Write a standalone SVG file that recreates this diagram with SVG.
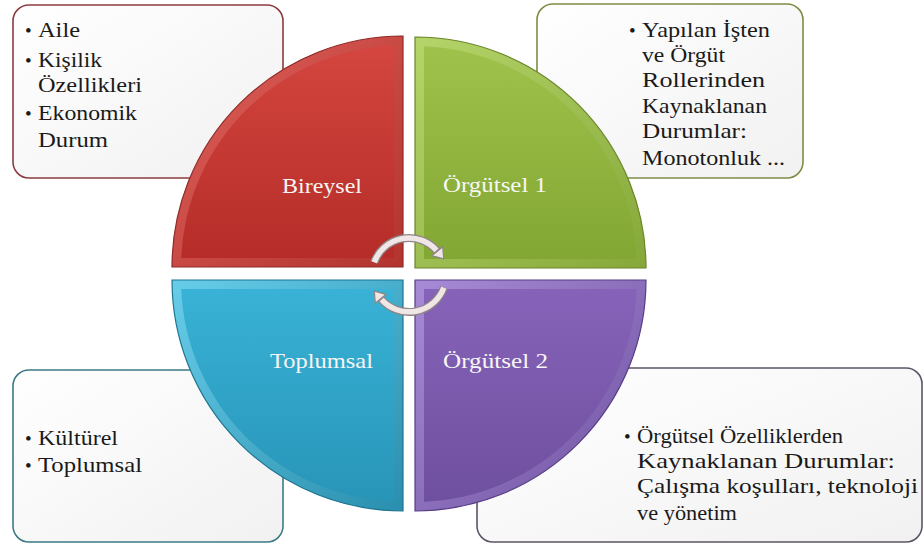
<svg xmlns="http://www.w3.org/2000/svg" width="924" height="545" viewBox="0 0 924 545">
<defs>
<linearGradient id="boxg" x1="0" y1="0" x2="1" y2="1"><stop offset="0" stop-color="#ffffff"/><stop offset="1" stop-color="#f1f1f1"/></linearGradient>
<linearGradient id="redO" x1="0" y1="0" x2="1" y2="1"><stop offset="0" stop-color="#e0625c"/><stop offset="1" stop-color="#b3332f"/></linearGradient>
<linearGradient id="redI" x1="0" y1="0" x2="0" y2="1"><stop offset="0" stop-color="#d4463f"/><stop offset="1" stop-color="#b52c28"/></linearGradient>
<linearGradient id="grnO" x1="0" y1="0" x2="1" y2="1"><stop offset="0" stop-color="#b5d46a"/><stop offset="1" stop-color="#86a83a"/></linearGradient>
<linearGradient id="grnI" x1="0" y1="0" x2="0" y2="1"><stop offset="0" stop-color="#9fc24c"/><stop offset="1" stop-color="#82a732"/></linearGradient>
<linearGradient id="bluO" x1="0" y1="0" x2="1" y2="1"><stop offset="0" stop-color="#68cde9"/><stop offset="1" stop-color="#2a8fae"/></linearGradient>
<linearGradient id="bluI" x1="0" y1="0" x2="0" y2="1"><stop offset="0" stop-color="#38b2d6"/><stop offset="1" stop-color="#2895b8"/></linearGradient>
<linearGradient id="purO" x1="0" y1="0" x2="1" y2="1"><stop offset="0" stop-color="#a78bd6"/><stop offset="1" stop-color="#6e52a0"/></linearGradient>
<linearGradient id="purI" x1="0" y1="0" x2="0" y2="1"><stop offset="0" stop-color="#8663b8"/><stop offset="1" stop-color="#6f4f9f"/></linearGradient>
</defs>
<style>
.box{fill:url(#boxg);stroke-width:1.6}
.t{font-family:"Liberation Serif","Times New Roman",serif;font-size:21px;fill:#1a1a1a}
.b{font-family:"Liberation Serif","Times New Roman",serif;font-size:19px;fill:#1a1a1a}
.lab{font-family:"Liberation Serif","Times New Roman",serif;font-size:22px;fill:#f6f6f6}
.edge{stroke-width:1.2}
.arcO{fill:none;stroke:#8f8586;stroke-width:8}
.arcI{fill:none;stroke:#f1e6e6;stroke-width:5.5}
.head{fill:#f1e6e6;stroke:#8f8586;stroke-width:1.2}
</style>
<rect width="924" height="545" fill="#ffffff"/>
<g id="box-bireysel">
<rect class="box" x="13" y="5" width="270" height="173" rx="16" stroke="#8c3c40"/>
<text class="b" x="25" y="37">•</text>
<text class="t" x="38" y="37" textLength="42" lengthAdjust="spacingAndGlyphs">Aile</text>
<text class="b" x="25" y="67">•</text>
<text class="t" x="38" y="67" textLength="64" lengthAdjust="spacingAndGlyphs">Kişilik</text>
<text class="t" x="38" y="92" textLength="104" lengthAdjust="spacingAndGlyphs">Özellikleri</text>
<text class="b" x="25" y="120">•</text>
<text class="t" x="38" y="120" textLength="99" lengthAdjust="spacingAndGlyphs">Ekonomik</text>
<text class="t" x="38" y="147" textLength="70" lengthAdjust="spacingAndGlyphs">Durum</text>
</g>
<g id="box-orgutsel1">
<rect class="box" x="537" y="4" width="266" height="174" rx="16" stroke="#7d8c45"/>
<text class="b" x="629" y="37">•</text>
<text class="t" x="642" y="37" textLength="128" lengthAdjust="spacingAndGlyphs">Yapılan İşten</text>
<text class="t" x="642" y="62" textLength="83" lengthAdjust="spacingAndGlyphs">ve Örgüt</text>
<text class="t" x="642" y="87" textLength="123" lengthAdjust="spacingAndGlyphs">Rollerinden</text>
<text class="t" x="642" y="113" textLength="125" lengthAdjust="spacingAndGlyphs">Kaynaklanan</text>
<text class="t" x="642" y="138" textLength="105" lengthAdjust="spacingAndGlyphs">Durumlar:</text>
<text class="t" x="642" y="165" textLength="143" lengthAdjust="spacingAndGlyphs">Monotonluk ...</text>
</g>
<g id="box-toplumsal">
<rect class="box" x="13" y="370" width="270" height="172" rx="16" stroke="#3c7a85"/>
<text class="b" x="25" y="445">•</text>
<text class="t" x="38" y="445" textLength="80" lengthAdjust="spacingAndGlyphs">Kültürel</text>
<text class="b" x="25" y="472">•</text>
<text class="t" x="38" y="472" textLength="104" lengthAdjust="spacingAndGlyphs">Toplumsal</text>
</g>
<g id="box-orgutsel2">
<rect class="box" x="477" y="368" width="445" height="174" rx="16" stroke="#5c5466"/>
<text class="b" x="624" y="443">•</text>
<text class="t" x="637" y="443" textLength="206" lengthAdjust="spacingAndGlyphs">Örgütsel Özelliklerden</text>
<text class="t" x="637" y="468" textLength="258" lengthAdjust="spacingAndGlyphs">Kaynaklanan Durumlar:</text>
<text class="t" x="637" y="493" textLength="281" lengthAdjust="spacingAndGlyphs">Çalışma koşulları, teknoloji</text>
<text class="t" x="637" y="520" textLength="100" lengthAdjust="spacingAndGlyphs">ve yönetim</text>
</g>
<g id="q-bireysel">
<path class="edge" d="M403,267 H172 A231,231 0 0 1 403,36 Z" fill="url(#redO)" stroke="#8e2a27"/>
<path d="M394,258 H181.2 A222,222 0 0 1 394,45.2 Z" fill="url(#redI)"/>
<text class="lab" x="282" y="193" textLength="80" lengthAdjust="spacingAndGlyphs">Bireysel</text>
</g>
<g id="q-orgutsel1">
<path class="edge" d="M415,268 V37 A231,231 0 0 1 646,268 Z" fill="url(#grnO)" stroke="#6a8528"/>
<path d="M424,259 V46.2 A222,222 0 0 1 636.8,259 Z" fill="url(#grnI)"/>
<text class="lab" x="443" y="192" textLength="104" lengthAdjust="spacingAndGlyphs">Örgütsel 1</text>
</g>
<g id="q-toplumsal">
<path class="edge" d="M403,280 V511 A231,231 0 0 1 172,280 Z" fill="url(#bluO)" stroke="#1f7591"/>
<path d="M394,289 V501.8 A222,222 0 0 1 181.2,289 Z" fill="url(#bluI)"/>
<text class="lab" x="270" y="368" textLength="103" lengthAdjust="spacingAndGlyphs">Toplumsal</text>
</g>
<g id="q-orgutsel2">
<path class="edge" d="M415,280 H646 A231,231 0 0 1 415,511 Z" fill="url(#purO)" stroke="#563d85"/>
<path d="M424,289 H636.8 A222,222 0 0 1 424,501.8 Z" fill="url(#purI)"/>
<text class="lab" x="443" y="368" textLength="105" lengthAdjust="spacingAndGlyphs">Örgütsel 2</text>
</g>
<g id="connectors">
<path class="arcO" d="M374.2,262.3 A37,37 0 0 1 437.3,251.2"/>
<polygon class="head" points="442.7,246.7 443.7,258.9 431.9,255.7"/>
<path class="arcI" d="M374.2,262.3 A37,37 0 0 1 436.5,250.3"/>
<path class="arcO" d="M443.8,287.7 A37,37 0 0 1 380.7,298.8"/>
<polygon class="head" points="375.3,303.3 374.3,291.1 386.1,294.3"/>
<path class="arcI" d="M443.8,287.7 A37,37 0 0 1 381.6,299.6"/>
</g>
</svg>
